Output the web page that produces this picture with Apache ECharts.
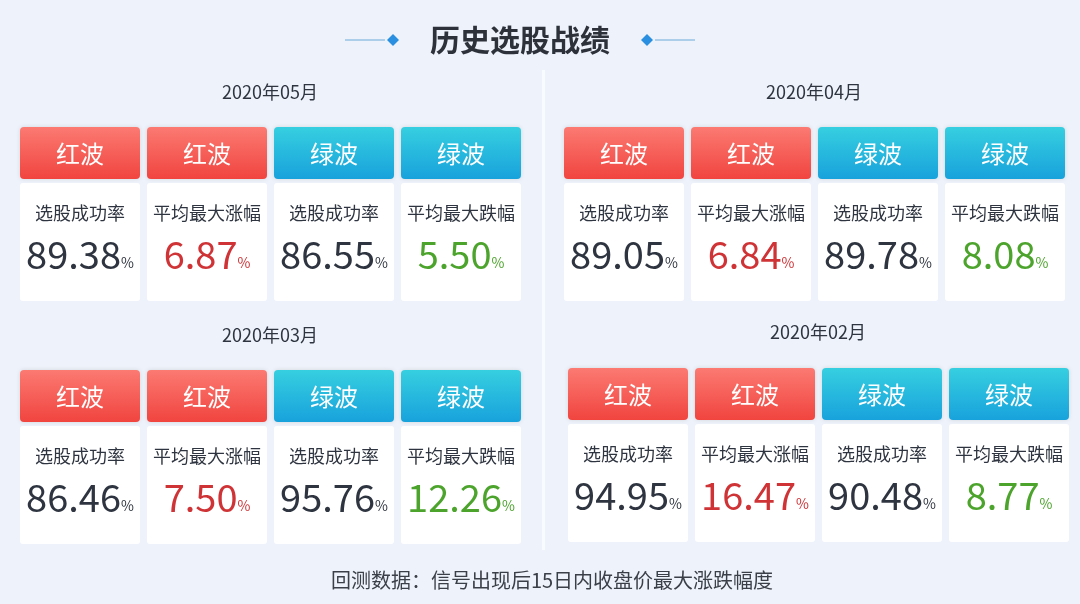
<!DOCTYPE html>
<html><head><meta charset="utf-8">
<script src="https://cdn.jsdelivr.net/npm/echarts@6/dist/echarts.min.js"></script>
<style>html,body{margin:0;padding:0;background:#eef3fb}#c{width:1080px;height:604px}</style>
</head><body><div id="c"></div>
<script>
const title = '历史选股战绩';
const footer = '回测数据：信号出现后15日内收盘价最大涨跌幅度';
const months = ['2020年05月', '2020年04月', '2020年03月', '2020年02月'];
const headers = ['红波', '红波', '绿波', '绿波'];
const labels = ['选股成功率', '平均最大涨幅', '选股成功率', '平均最大跌幅'];
const values = [
  [89.38, 6.87, 86.55, 5.50],
  [89.05, 6.84, 89.78, 8.08],
  [86.46, 7.50, 95.76, 12.26],
  [94.95, 16.47, 90.48, 8.77]
];

const FONT = '"Noto Sans CJK SC","Noto Sans",sans-serif';
const panelX = [20, 564, 20, 568];
const panelY = [127, 127, 370, 368];
const monthY = [92, 92, 335, 332];
const red = new echarts.graphic.LinearGradient(0,0,0,1,[{offset:0,color:'#fb7a72'},{offset:1,color:'#f1443f'}]);
const blue = new echarts.graphic.LinearGradient(0,0,0,1,[{offset:0,color:'#36cfe0'},{offset:1,color:'#18a2dc'}]);
const valColors = ['#2f3540', '#cf3336', '#2f3540', '#4ca42c'];

const g = [];
g.push({type:'rect', shape:{x:542,y:70,width:3,height:480}, style:{fill:'#f8fbff'}});
g.push({type:'text', x:520, y:40, style:{text:title, font:'bold 30px '+FONT, fill:'#2c313a', align:'center', verticalAlign:'middle'}});
g.push({type:'line', shape:{x1:345,y1:40,x2:385,y2:40}, style:{stroke:'#6aa9d8', lineWidth:1}});
g.push({type:'polygon', shape:{points:[[387,40],[393,34],[399,40],[393,46]]}, style:{fill:'#2a8fe0'}});
g.push({type:'polygon', shape:{points:[[641,40],[647,34],[653,40],[647,46]]}, style:{fill:'#2a8fe0'}});
g.push({type:'line', shape:{x1:655,y1:40,x2:695,y2:40}, style:{stroke:'#6aa9d8', lineWidth:1}});
g.push({type:'text', x:552, y:580, style:{text:footer, font:'20px '+FONT, fill:'#3a3f48', align:'center', verticalAlign:'middle'}});

months.forEach((m, p) => {
  g.push({type:'text', x:panelX[p]+250, y:monthY[p], style:{text:m, font:'18px '+FONT, fill:'#2f3540', align:'center', verticalAlign:'middle'}});
  headers.forEach((h, i) => {
    const x = panelX[p] + i*127, y = panelY[p], w = 120;
    g.push({type:'rect', shape:{x, y, width:w, height:52, r:4}, style:{fill: i<2 ? red : blue, shadowBlur:4, shadowColor:'rgba(0,0,0,0.12)'}});
    g.push({type:'text', x:x+w/2, y:y+27, style:{text:h, font:'24px '+FONT, fill:'#ffffff', align:'center', verticalAlign:'middle'}});
    g.push({type:'rect', shape:{x, y:y+56, width:w, height:118, r:3}, style:{fill:'#ffffff'}});
    g.push({type:'text', x:x+w/2, y:y+86, style:{text:labels[i], font:'18px '+FONT, fill:'#2f3540', align:'center', verticalAlign:'middle'}});
    g.push({type:'text', x:x+w/2, y:y+128, style:{
      text:'{v|'+values[p][i].toFixed(2)+'}{u|%}', align:'center', verticalAlign:'middle',
      rich:{v:{font:'38px '+FONT, fill:valColors[i], verticalAlign:'bottom'}, u:{font:'14px '+FONT, fill:valColors[i], verticalAlign:'bottom', padding:[0,0,4,0]}}
    }});
  });
});

const chart = echarts.init(document.getElementById('c'));
chart.setOption({backgroundColor:'#eef3fb', graphic:g});
</script></body></html>
